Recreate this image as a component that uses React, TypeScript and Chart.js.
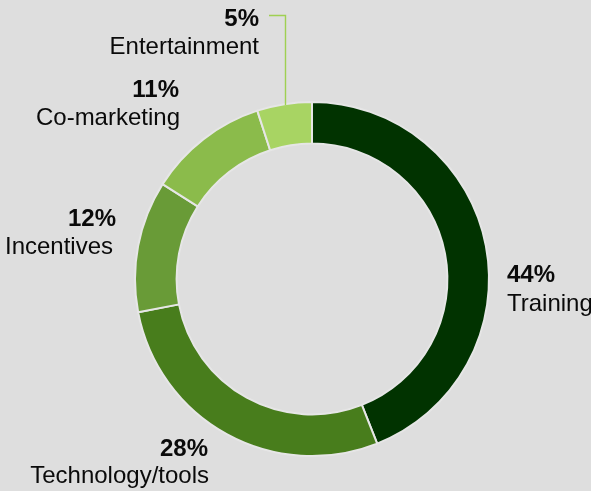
import React, { useEffect, useRef } from "react";
import { Chart, registerables } from "chart.js";

Chart.register(...registerables);

const categories = ["Training", "Technology/tools", "Incentives", "Co-marketing", "Entertainment"];
const values = [44, 28, 12, 11, 5];
const colors = ["#013300", "#487d1c", "#699b37", "#8bbb4b", "#a8d463"];

// text placement (layout only)
const labelLayout = [
  { x: 507, y: 282, align: "left", nx: 507, ny: 311, nalign: "left" },
  { x: 208, y: 456, align: "right", nx: 209, ny: 483, nalign: "right" },
  { x: 116, y: 226, align: "right", nx: 59, ny: 254, nalign: "center" },
  { x: 179, y: 97, align: "right", nx: 180, ny: 125, nalign: "right" },
  { x: 259, y: 26, align: "right", nx: 259, ny: 54, nalign: "right" },
];

const FONT = '"Liberation Sans", Arial, Helvetica, sans-serif';

const labelsPlugin = {
  id: "outerLabels",
  afterDatasetsDraw(chart: any) {
    const ctx = chart.ctx as CanvasRenderingContext2D;
    const meta = chart.getDatasetMeta(0);
    ctx.save();
    ctx.fillStyle = "#0a0a0a";
    ctx.textBaseline = "alphabetic";
    values.forEach((v, i) => {
      const l = labelLayout[i];
      ctx.textAlign = l.align as CanvasTextAlign;
      ctx.font = `bold 24px ${FONT}`;
      ctx.fillText(`${v}%`, l.x, l.y);
      ctx.textAlign = l.nalign as CanvasTextAlign;
      ctx.font = `24px ${FONT}`;
      ctx.fillText(categories[i], l.nx, l.ny);
    });
    // leader line for the last (small) slice
    const arc: any = meta.data[4];
    if (arc) {
      const { x: cx, y: cy, outerRadius } = arc.getProps(["x", "y", "outerRadius"], true);
      const lx = 285.5;
      const dx = lx - cx;
      const endY = cy - Math.sqrt(Math.max(outerRadius * outerRadius - dx * dx, 0)) + 1;
      ctx.strokeStyle = "#9fd052";
      ctx.lineWidth = 1.4;
      ctx.beginPath();
      ctx.moveTo(269, 15.5);
      ctx.lineTo(lx, 15.5);
      ctx.lineTo(lx, endY);
      ctx.stroke();
    }
    ctx.restore();
  },
};

export default function App() {
  const ref = useRef<HTMLCanvasElement>(null);
  useEffect(() => {
    if (!ref.current) return;
    const chart = new Chart(ref.current, {
      type: "doughnut",
      data: {
        labels: categories,
        datasets: [
          {
            data: values,
            backgroundColor: colors,
            borderColor: "#e6e6e6",
            borderWidth: 2,
          },
        ],
      },
      options: {
        responsive: false,
        animation: false,
        cutout: "76.5%",
        layout: { padding: { left: 134, right: 101, top: 101, bottom: 34 } },
        plugins: {
          legend: { display: false },
          tooltip: { enabled: false },
        },
      },
      plugins: [labelsPlugin],
    });
    return () => chart.destroy();
  }, []);
  return (
    <div style={{ position: "fixed", left: 0, top: 0, width: 591, height: 491, background: "#dedede" }}>
      <canvas ref={ref} width={591} height={491} style={{ display: "block" }} />
    </div>
  );
}
